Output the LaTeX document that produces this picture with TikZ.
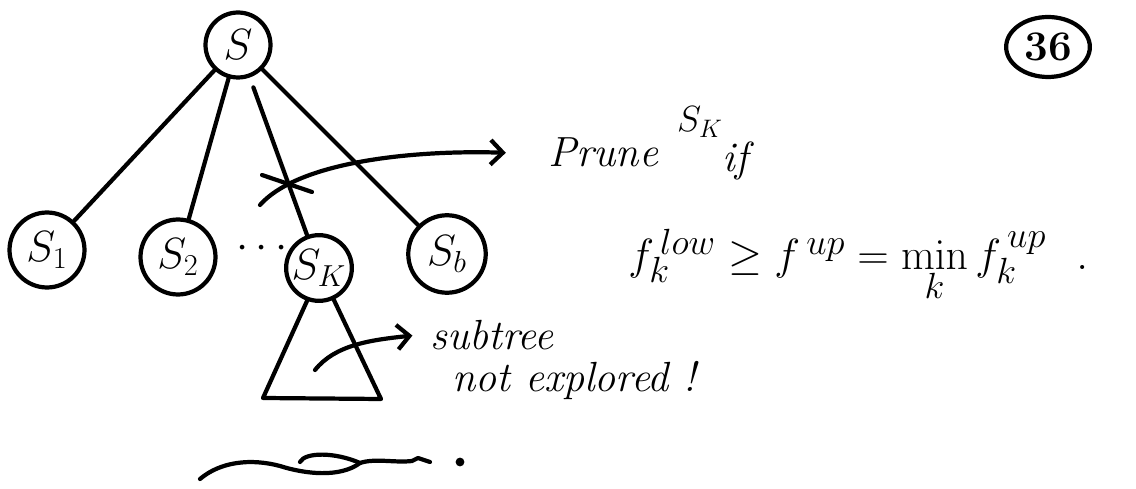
\documentclass[tikz,border=0pt]{standalone}
\usetikzlibrary{arrows.meta,shapes.geometric}
\tikzset{
  state/.style={circle, draw, line width=2.4pt, inner sep=0pt, font=\fontsize{24}{28}\selectfont},
  edge/.style={line width=2.4pt, line cap=round, line join=round},
  note/.style={font=\fontsize{24}{28}\selectfont\itshape, inner sep=0pt},
  pointer/.style={edge, -{Straight Barb[length=7pt,width=14pt]}}
}
\begin{document}
\begin{tikzpicture}[x=0.02cm, y=-0.02cm]
\useasboundingbox (0,0) rectangle (1136,489);
\node[state, minimum size=1.3cm] (S) at (238,45) {$S$};
\node[state, minimum size=1.5cm] (S1) at (47,250) {$S_1$};
\node[state, minimum size=1.5cm] (S2) at (178,257) {$S_2$};
\node[state, minimum size=1.25cm] (SK) at (319,268) {$S_K$};
\node[state, minimum size=1.55cm] (Sb) at (447,254) {$S_b$};
\node[font=\fontsize{24}{28}\selectfont] (dots) at (262,249) {$\cdots$};
\node[ellipse, draw, line width=2.4pt, minimum width=1.45cm, minimum height=1.2cm,
      font=\fontsize{24}{28}\selectfont\bfseries] (page) at (1048,47) {36};
\draw[edge] (S) -- (S1);
\draw[edge] (S) -- (S2);
\draw[edge, shorten <=6pt] (S) -- (SK);
\draw[edge] (S) -- (Sb);
% subtree below S_K
\coordinate (tl) at (263,398);
\coordinate (tr) at (381,399);
\draw[edge] (SK.250) -- (tl) -- (tr) -- (SK.295);
% cut edge and prune rule
\draw[edge] (262,175) -- (312,192);
\coordinate (cut) at (260,205);
\node[note, anchor=base west] (prune) at (548,167) {Prune};
\node[note, font=\fontsize{20}{24}\selectfont] (skmark) at (700,122) {$S_K$};
\node[note, anchor=base west] (if) at (722,172) {if};
\draw[pointer] (cut) .. controls (300,160) and (420,150) .. ([xshift=-24]prune.west);
\node[font=\fontsize{28}{32}\selectfont, anchor=base west, inner sep=0pt] (rule) at (628,270)
  {$f_k^{\,low} \geq f^{\,up} = \displaystyle\min_k f_k^{\,up}$\ \ .};
% unexplored part
\coordinate (inside) at (315,370);
\node[note, anchor=base west] (subtree) at (430,350) {subtree};
\node[note, anchor=base west] (notexp) at (452,392) {not explored !};
\draw[pointer] (inside) .. controls (335,345) and (370,340) .. ([xshift=-10]subtree.west);
% closing swash
\draw[edge] (200,479) .. controls (220,462) and (250,458) .. (280,466)
  .. controls (305,474) and (340,478) .. (360,463)
  .. controls (375,458) and (395,463) .. (412,461) -- (418,458) -- (430,462);
\draw[edge] (300,462) .. controls (305,452) and (335,452) .. (360,463);
\fill (460,462) circle (2.5pt);
\end{tikzpicture}
\end{document}
